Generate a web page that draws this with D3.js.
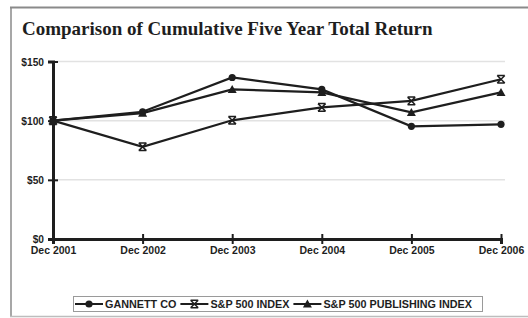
<!DOCTYPE html>
<html><head><meta charset="utf-8">
<script src="https://cdn.jsdelivr.net/npm/d3@7"></script>
<style>
body{margin:0;background:#fff;}
svg{display:block;}
</style></head>
<body><svg id="c" width="528" height="318"></svg>
<script>
const categories = ["Dec 2001","Dec 2002","Dec 2003","Dec 2004","Dec 2005","Dec 2006"];
const gannett = [100, 107.5, 136.5, 126.4, 95.2, 96.9];
const sp500 = [100, 77.9, 100.3, 111.2, 116.7, 135.0];
const publishing = [100, 106.4, 126.4, 123.9, 107.0, 123.9];
const yTicks = [0, 50, 100, 150];
const yTickLabels = ["$0","$50","$100","$150"];
const seriesNames = ["GANNETT CO","S&P 500 INDEX","S&P 500 PUBLISHING INDEX"];

const svg = d3.select("#c");
const ink = "#1e1e1e";

// frame
svg.append("line").attr("x1",10).attr("x2",528).attr("y1",7.5).attr("y2",7.5).attr("stroke","#8a8a8a").attr("stroke-width",2);
svg.append("line").attr("x1",11).attr("x2",11).attr("y1",7).attr("y2",317).attr("stroke","#8a8a8a").attr("stroke-width",1.5);
svg.append("line").attr("x1",10).attr("x2",528).attr("y1",316.5).attr("y2",316.5).attr("stroke","#bdbdbd").attr("stroke-width",1.5);

svg.append("text").attr("x",22).attr("y",35).attr("font-family","Liberation Serif").attr("font-weight","bold")
  .attr("font-size",19).attr("fill",ink).text("Comparison of Cumulative Five Year Total Return");

const x = d3.scalePoint().domain(categories).range([53, 501]);
const y = d3.scaleLinear().domain([0,150]).range([239, 61.5]);

// grid
svg.append("g").selectAll("line").data(yTicks.filter(d=>d>0)).join("line")
  .attr("x1",53).attr("x2",505).attr("y1",d=>y(d)).attr("y2",d=>y(d))
  .attr("stroke","#e2e2e2").attr("stroke-width",1.5);

// y axis
const ya = svg.append("g").attr("transform","translate(53,0)")
  .call(d3.axisLeft(y).tickValues(yTicks).tickFormat((d,i)=>yTickLabels[i]).tickSize(5).tickPadding(4));
ya.select(".domain").attr("stroke",ink).attr("stroke-width",3);
ya.selectAll(".tick line").attr("x2",5).attr("x1",-5).attr("stroke",ink).attr("stroke-width",2);
ya.selectAll(".tick text").attr("font-family","Liberation Sans").attr("font-weight","bold").attr("font-size",10.2).attr("fill",ink).attr("dy","0.35em").attr("x",-9);

// x axis
const xa = svg.append("g").attr("transform","translate(0,239)")
  .call(d3.axisBottom(x).tickSize(5).tickPadding(4));
xa.select(".domain").attr("stroke",ink).attr("stroke-width",3);
xa.selectAll(".tick line").attr("y1",-5).attr("y2",5).attr("stroke",ink).attr("stroke-width",2);
xa.selectAll(".tick text").attr("font-family","Liberation Sans").attr("font-weight","bold").attr("font-size",10.5).attr("fill",ink).attr("y",7.5);

const series = [gannett, sp500, publishing];
const markers = ["circle","x","triangle"];
function drawMarker(g, type, cx, cy){
  if(type==="circle"){
    g.append("circle").attr("cx",cx).attr("cy",cy).attr("r",3.6).attr("fill",ink);
  } else if(type==="triangle"){
    const s=4.5;
    g.append("path").attr("d",`M${cx},${cy-s}L${cx+s},${cy+s*0.8}L${cx-s},${cy+s*0.8}Z`).attr("fill",ink);
  } else {
    const s=3.8;
    g.append("path").attr("d",`M${cx-s},${cy-s}L${cx+s},${cy+s}M${cx+s},${cy-s}L${cx-s},${cy+s}M${cx-s},${cy-s}L${cx+s},${cy-s}M${cx-s},${cy+s}L${cx+s},${cy+s}`)
      .attr("stroke",ink).attr("stroke-width",1.5).attr("fill","none");
  }
}
const line = d3.line().x((d,i)=>x(categories[i])).y(d=>y(d));
series.forEach((s,k)=>{
  svg.append("path").datum(s).attr("d",line).attr("fill","none").attr("stroke",ink).attr("stroke-width",2.2);
});
series.forEach((s,k)=>{
  const g = svg.append("g");
  s.forEach((v,i)=>drawMarker(g, markers[k], x(categories[i]), y(v)));
});

// legend
const lg = svg.append("g");
lg.append("rect").attr("x",73.5).attr("y",296.5).attr("width",409).attr("height",15).attr("fill","#fff").attr("stroke","#9a9a9a").attr("stroke-width",1);
let lx = 75;
const cy = 304;
seriesNames.forEach((n,k)=>{
  const x0 = lx;
  lg.append("line").attr("x1",x0).attr("x2",x0+28).attr("y1",cy).attr("y2",cy).attr("stroke",ink).attr("stroke-width",2);
  drawMarker(lg, markers[k], x0+14, cy);
  const t = lg.append("text").attr("x",x0+30).attr("y",cy+3.8).attr("font-family","Liberation Sans").attr("font-weight","bold")
    .attr("font-size",10.8).attr("fill",ink).text(n);
  lx = x0 + 30 + t.node().getComputedTextLength() + 4;
});
</script></body></html>
